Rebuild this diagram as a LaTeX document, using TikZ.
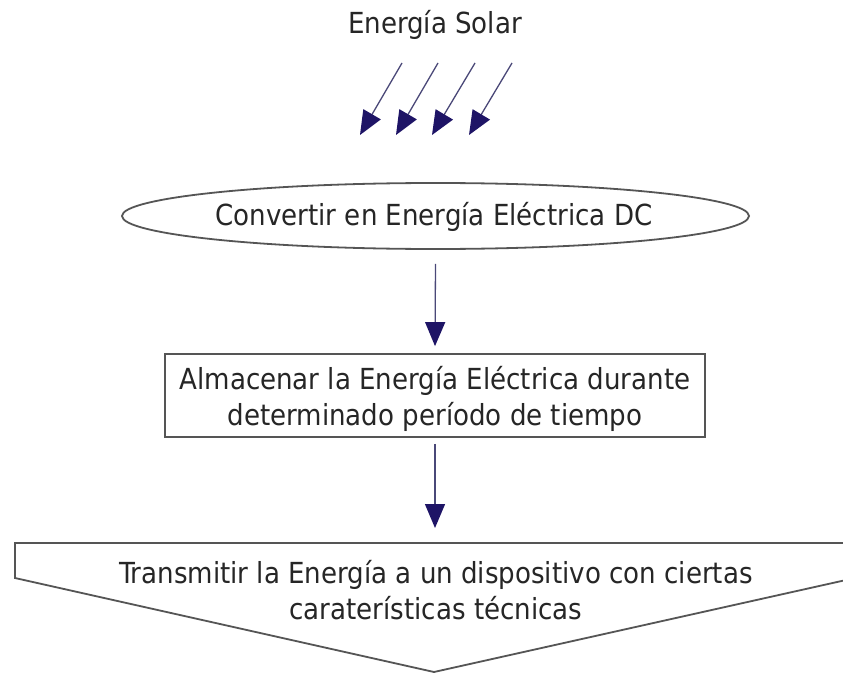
\documentclass[tikz,border=0pt]{standalone}
\usepackage{fontspec}
\setmainfont{DejaVu Sans Condensed}
\usetikzlibrary{arrows.meta,shapes.geometric}
\definecolor{headblue}{HTML}{1E1466}
\definecolor{shaftblue}{HTML}{4A4878}
\definecolor{edgegray}{HTML}{555555}
\tikzset{
  txt/.style={font=\fontsize{29}{36.5}\selectfont, text=black!85, align=center, inner sep=0pt},
  arr/.style={draw=shaftblue, line width=1.3pt, -{Triangle[length=24pt,width=20pt,color=headblue,fill=headblue]}},
  shapeline/.style={draw=edgegray, line width=1.8pt},
}
\begin{document}
\begin{tikzpicture}[x=1pt,y=-1pt]
\useasboundingbox (0,0) rectangle (843,674);
\clip (0,0) rectangle (843,674);
\fill[white] (0,0) rectangle (843,674);
% title
\node[txt] (sol) at (435,25) {Energía Solar};
% sun rays
\foreach \i/\xs/\xe in {1/402/360, 2/438/396, 3/475/432, 4/512/469}{
  \coordinate (r\i s) at (\xs,63);
  \coordinate (r\i e) at (\xe,135);
  \draw[arr] (r\i s) -- (r\i e);
}
% ellipse
\node[shapeline, ellipse, minimum width=627pt, minimum height=66pt, inner sep=0pt] (conv) at (435.5,216) {};
\node[txt] (convt) at (434,217) {Convertir en Energía Eléctrica DC};
% rectangle
\node[shapeline, rectangle, minimum width=540pt, minimum height=83pt, inner sep=0pt] (alm) at (435,395.5) {};
\node[txt] (almt) at (435,399) {Almacenar la Energía Eléctrica durante\\ determinado período de tiempo};
% pentagon (down arrow)
\coordinate (pTL) at (15,543);
\coordinate (pTR) at (855,543);
\coordinate (pL) at (15,578);
\coordinate (pR) at (855,578);
\coordinate (pT) at (434,672);
\draw[shapeline, line join=miter] (pT) -- (pL) -- (pTL) -- (pTR) -- (pR) -- cycle;
\node[txt] (trans) at (436,590) {Transmitir la Energía a un dispositivo con ciertas\\ caraterísticas técnicas};
% connectors
\draw[arr] ([yshift=-14pt]conv.south) -- ([yshift=7pt]alm.north);
\draw[arr] ([yshift=-6pt]alm.south) -- ([yshift=15pt]pTL -| alm.south);
\end{tikzpicture}
\end{document}
